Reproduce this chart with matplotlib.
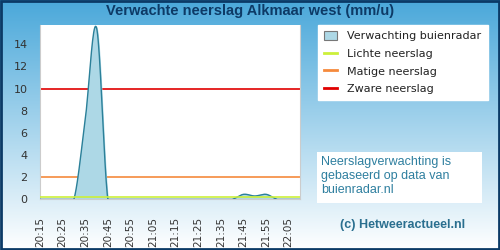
import numpy as np
import matplotlib
matplotlib.use('Agg')
import matplotlib.pyplot as plt
from matplotlib.patches import Patch, Rectangle
from matplotlib.lines import Line2D
from matplotlib.colors import LinearSegmentedColormap

times = ['20:15', '20:20', '20:25', '20:30', '20:35', '20:40', '20:45', '20:50',
         '20:55', '21:00', '21:05', '21:10', '21:15', '21:20', '21:25', '21:30',
         '21:35', '21:40', '21:45', '21:50', '21:55', '22:00', '22:05', '22:10']
rain = [0, 0, 0, 0, 7.2, 15.5, 0, 0,
        0, 0, 0, 0, 0, 0, 0, 0,
        0, 0, 0.45, 0.3, 0.45, 0, 0, 0]
licht = 0.2
matig = 2
zwaar = 10
yticks = [0, 2, 4, 6, 8, 10, 12, 14]


def spline(y, n=20):
    # catmull-rom drawing of the series, like the original area spline
    y = np.asarray(y, float)
    p = np.concatenate([[y[0]], y, [y[-1]]])
    xs, ys = [], []
    for i in range(len(y) - 1):
        p0, p1, p2, p3 = p[i], p[i + 1], p[i + 2], p[i + 3]
        t = np.linspace(0, 1, n, endpoint=False)
        v = 0.5 * (2 * p1 + (-p0 + p2) * t + (2 * p0 - 5 * p1 + 4 * p2 - p3) * t ** 2
                   + (-p0 + 3 * p1 - 3 * p2 + p3) * t ** 3)
        xs.append(i + t)
        ys.append(v)
    xs.append([len(y) - 1])
    ys.append([y[-1]])
    return np.concatenate(xs), np.clip(np.concatenate(ys), 0, None)


fig = plt.figure(figsize=(5, 2.5), dpi=100)

# background gradient
bg = fig.add_axes([0, 0, 1, 1], zorder=-10)
cmap = LinearSegmentedColormap.from_list('bg', ['#4aa8da', '#ffffff'])
bg.imshow(np.linspace(0, 1, 256).reshape(-1, 1), aspect='auto', cmap=cmap,
          extent=[0, 1, 0, 1], origin='upper')
bg.set_xlim(0, 1)
bg.set_ylim(0, 1)
bg.axis('off')
bg.add_patch(Rectangle((0.002, 0.004), 0.996, 0.992, fill=False, edgecolor='#0b3a66',
                       linewidth=2, transform=bg.transAxes))

ax = fig.add_axes([0.08, 0.2028, 0.52, 0.6972])
x = np.arange(len(times))
sx, sy = spline(rain)
ax.fill_between(sx, 0, sy, color='#add8e6', zorder=2)
ax.plot(sx, sy, color='#2b8099', linewidth=1, zorder=3)
ax.axhline(licht, color='#ccf03a', linewidth=1.2, zorder=4)
ax.axhline(matig, color='#f58a3c', linewidth=1.2, zorder=1)
ax.axhline(zwaar, color='#e00000', linewidth=1.2, zorder=1)

ax.set_xlim(0, len(times) - 1)
ax.set_ylim(0, 15.75)
ax.set_xticks(x[::2])
ax.set_xticklabels(times[::2], rotation=90, fontsize=7.5, color='#333333')
ax.set_yticks(yticks)
ax.set_yticklabels([str(v) for v in yticks], fontsize=8, color='#333333')
ax.tick_params(axis='both', length=0)
ax.tick_params(axis='x', pad=13)
ax.tick_params(axis='y', pad=9)
for s in ['left', 'bottom', 'right']:
    ax.spines[s].set_color('#cccccc')
ax.spines['top'].set_visible(False)

fig.text(0.5, 0.955, 'Verwachte neerslag Alkmaar west (mm/u)', ha='center', va='center',
         fontsize=10.5, fontweight='bold', color='#0d3a66', family='Liberation Sans')

handles = [Patch(facecolor='#add8e6', edgecolor='#777777', linewidth=0.8),
           Line2D([], [], color='#ccf03a', linewidth=2),
           Line2D([], [], color='#f58a3c', linewidth=2),
           Line2D([], [], color='#e00000', linewidth=2)]
labels = ['Verwachting buienradar', 'Lichte neerslag', 'Matige neerslag', 'Zware neerslag']
leg = fig.legend(handles, labels, loc='upper left', bbox_to_anchor=(0.636, 0.9),
                 fontsize=8, frameon=True, fancybox=False, edgecolor='white',
                 facecolor='white', framealpha=1, handlelength=1.2, handleheight=0.8,
                 labelspacing=0.68, borderpad=0.55, handletextpad=0.9, borderaxespad=0)
for t in leg.get_texts():
    t.set_color('#222222')

fig.patches.append(Rectangle((0.634, 0.189), 0.33, 0.204, transform=fig.transFigure,
                             facecolor='white', edgecolor='none', zorder=1))
fig.text(0.642, 0.374, 'Neerslagverwachting is\ngebaseerd op data van\nbuienradar.nl',
         ha='left', va='top', fontsize=9, color='#2e7f9f', family='Liberation Sans',
         linespacing=1.2, zorder=2)
fig.text(0.806, 0.1, '(c) Hetweeractueel.nl', ha='center', va='center', fontsize=9,
         fontweight='bold', color='#2a6f8f', family='Liberation Sans')

fig.savefig('out.png', dpi=100)
